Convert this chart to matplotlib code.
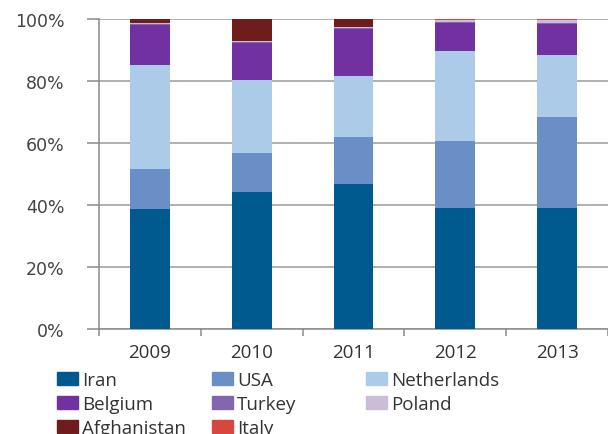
import numpy as np
import matplotlib
matplotlib.use('Agg')
import matplotlib.pyplot as plt
from matplotlib.patches import Patch

years = ['2009', '2010', '2011', '2012', '2013']
iran = [38.7, 44.1, 46.8, 38.9, 38.9]
usa = [12.8, 12.7, 15.2, 21.8, 29.6]
netherlands = [33.7, 23.5, 19.6, 29.1, 19.9]
belgium = [12.9, 12.1, 15.1, 8.9, 10.0]
turkey = [0.3, 0.3, 0.3, 0.3, 0.3]
poland = [0.3, 0.3, 0.3, 0.8, 1.0]
afghanistan = [1.3, 7.0, 2.7, 0.0, 0.0]
italy = [0.0, 0.0, 0.0, 0.2, 0.3]

series = [
    ('Iran', iran, '#015a8f'),
    ('USA', usa, '#6a8fc6'),
    ('Netherlands', netherlands, '#abcbe8'),
    ('Belgium', belgium, '#7131a0'),
    ('Turkey', turkey, '#8366b0'),
    ('Poland', poland, '#cbbcd8'),
    ('Afghanistan', afghanistan, '#6f1c1c'),
    ('Italy', italy, '#d9463f'),
]

plt.rcParams['font.family'] = ['Open Sans', 'DejaVu Sans']
fig = plt.figure(figsize=(6.08, 4.35), dpi=100)
ax = fig.add_axes([99 / 608, 1 - 330 / 435, 509 / 608, 310 / 435])

x = np.arange(len(years))
bottom = np.zeros(len(years))
handles = {}
for name, vals, color in series:
    vals = np.array(vals)
    ax.bar(x, vals, 0.39, bottom=bottom, color=color, zorder=3)
    bottom += vals
    handles[name] = Patch(color=color, label=name)

ax.set_xlim(-0.5, 4.5)
ax.set_ylim(0, 100)
ax.set_yticks(range(0, 101, 20))
ax.set_yticklabels([f'{v}%' for v in range(0, 101, 20)], family='DejaVu Sans')
ax.yaxis.grid(True, color='#9a9a9a', linewidth=1.1, zorder=0)
ax.set_xticks(x)
ax.set_xticklabels(years)
ax.set_xticks(np.arange(-0.5, 5, 1), minor=True)
ax.tick_params(axis='x', which='major', length=0, pad=10, labelsize=13.5, colors='#333333')
ax.tick_params(axis='x', which='minor', length=5, color='#8a8a8a', width=1.1)
ax.tick_params(axis='y', length=9, color='#8a8a8a', width=1.1, pad=16, labelsize=12.5, colors='#444444')
for s in ['top', 'right']:
    ax.spines[s].set_visible(False)
for s in ['left', 'bottom']:
    ax.spines[s].set_color('#8a8a8a')
    ax.spines[s].set_linewidth(1.1)

columns = [
    (['Iran', 'Belgium', 'Afghanistan'], 57),
    (['USA', 'Turkey', 'Italy'], 212),
    (['Netherlands', 'Poland'], 366),
]
for names, xpos in columns:
    leg = fig.legend(handles=[handles[n] for n in names], loc='upper left',
                     bbox_to_anchor=(xpos / 608, 1 - 372 / 435), frameon=False,
                     fontsize=13.5, handlelength=1.1, handleheight=0.75,
                     handletextpad=0.25, labelspacing=0.32, borderpad=0,
                     borderaxespad=0)
    for t in leg.get_texts():
        t.set_color('#333333')

fig.savefig('out.png', dpi=100)
